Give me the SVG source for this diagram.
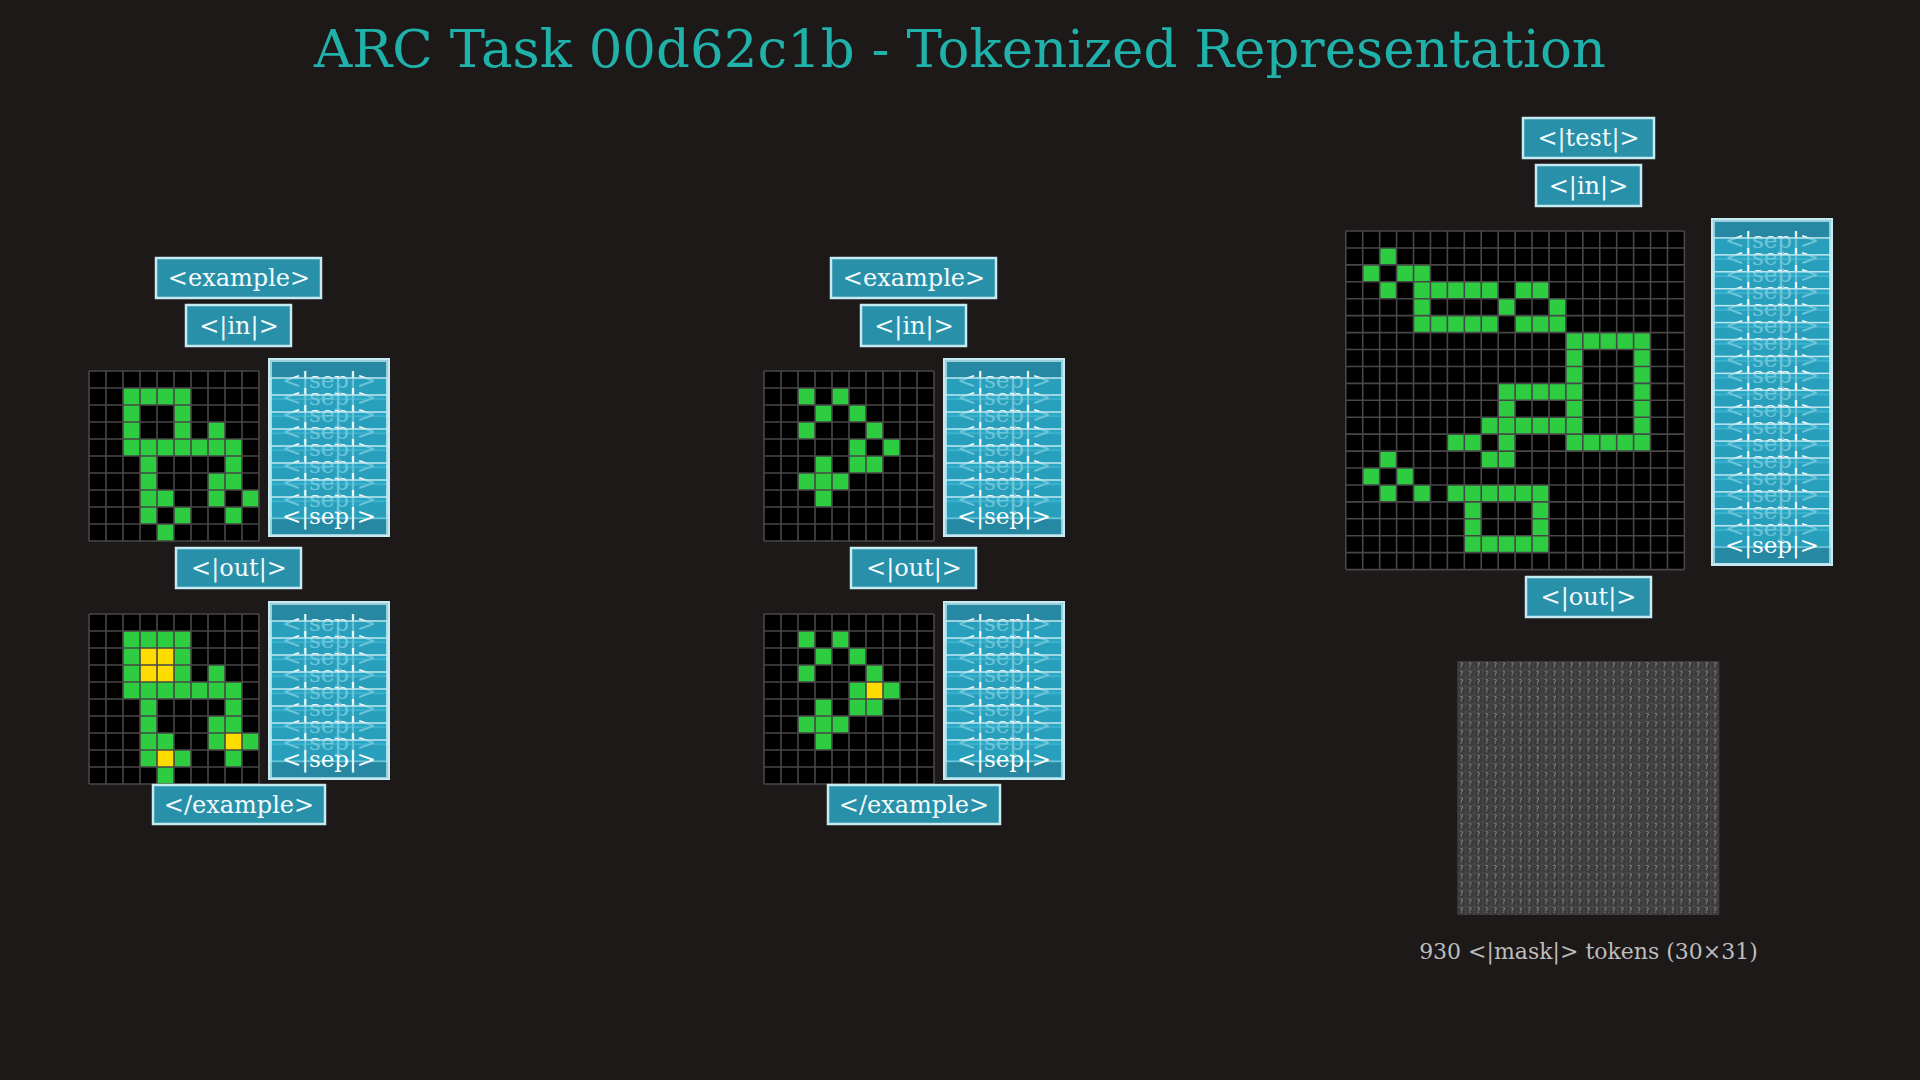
<svg xmlns="http://www.w3.org/2000/svg" xmlns:xlink="http://www.w3.org/1999/xlink" width="1920" height="1080" viewBox="0 0 1920 1080">
<defs>
<style>
.title{font-family:'DejaVu Serif',serif;font-size:53px;fill:#20b2aa;text-anchor:middle}
.lbl{fill:#2890a9;stroke:#c6eaf2;stroke-width:2.5}
.lt{font-family:'DejaVu Serif',serif;font-size:24px;fill:#f4fbfd;text-anchor:middle}
.k{fill:#000}
.g{fill:#2ecc40}
.y{fill:#ffdc00}
.gl{fill:none;stroke:#474747;stroke-width:1.6;vector-effect:non-scaling-stroke}
.stk{fill:#2688a2;stroke:#c6eaf2;stroke-width:2}
.sb{fill:url(#sepgrad);fill-opacity:0.68;stroke:#c0e7f0;stroke-width:1.5}
.sb0{fill:#2688a2;stroke:#c0e7f0;stroke-width:1.5}
.st{font-family:'DejaVu Serif',serif;font-size:23px;fill:#ffffff;text-anchor:middle}
.mt{font-family:'DejaVu Serif',serif;font-size:22px;fill:#bdbdbd;text-anchor:middle}
</style>
<linearGradient id="sepgrad" x1="0" y1="0" x2="0" y2="1">
<stop offset="0" stop-color="#29aac8"/>
<stop offset="0.55" stop-color="#29aac8"/>
<stop offset="0.57" stop-color="#62c6dc"/>
<stop offset="0.6" stop-color="#2688a2"/>
<stop offset="1" stop-color="#2688a2"/>
</linearGradient>
<path id="lines10" class="gl" d="M0 0H10M0 1H10M0 2H10M0 3H10M0 4H10M0 5H10M0 6H10M0 7H10M0 8H10M0 9H10M0 10H10M0 0V10M1 0V10M2 0V10M3 0V10M4 0V10M5 0V10M6 0V10M7 0V10M8 0V10M9 0V10M10 0V10"/>
<path id="lines20" class="gl" d="M0 0H20M0 1H20M0 2H20M0 3H20M0 4H20M0 5H20M0 6H20M0 7H20M0 8H20M0 9H20M0 10H20M0 11H20M0 12H20M0 13H20M0 14H20M0 15H20M0 16H20M0 17H20M0 18H20M0 19H20M0 20H20M0 0V20M1 0V20M2 0V20M3 0V20M4 0V20M5 0V20M6 0V20M7 0V20M8 0V20M9 0V20M10 0V20M11 0V20M12 0V20M13 0V20M14 0V20M15 0V20M16 0V20M17 0V20M18 0V20M19 0V20M20 0V20"/>
<pattern id="maskcell" patternUnits="userSpaceOnUse" x="1457.3" y="661.3" width="8.45" height="8.45">
<rect width="8.45" height="8.45" fill="#3a3a3a" stroke="#575757" stroke-width="0.6"/>
<text x="4.22" y="7" font-family="'DejaVu Sans',sans-serif" font-size="7.5" fill="#a0a0a0" text-anchor="middle">?</text>
</pattern>
</defs>
<rect width="1920" height="1080" fill="#1c1918"/>
<text id="title" class="title" x="960" y="67">ARC Task 00d62c1b - Tokenized Representation</text>

<g id="connectors"/>

<!-- Example 1 -->
<g id="ex1-open"><rect class="lbl" x="156" y="258" width="165" height="40"/><text class="lt" x="239" y="286">&lt;example&gt;</text></g>
<g id="ex1-in"><rect class="lbl" x="186" y="305" width="105" height="41"/><text class="lt" x="239" y="333.5">&lt;|in|&gt;</text></g>
<g id="ex1-in-grid" transform="translate(89,371) scale(17)">
<rect class="k" width="10" height="10"/>
<g class="g">
<rect x="2" y="1" width="4" height="1"/>
<rect x="2" y="2" width="1" height="1"/><rect x="5" y="2" width="1" height="1"/>
<rect x="2" y="3" width="1" height="1"/><rect x="5" y="3" width="1" height="1"/><rect x="7" y="3" width="1" height="1"/>
<rect x="2" y="4" width="7" height="1"/>
<rect x="3" y="5" width="1" height="1"/><rect x="8" y="5" width="1" height="1"/>
<rect x="3" y="6" width="1" height="1"/><rect x="7" y="6" width="2" height="1"/>
<rect x="3" y="7" width="2" height="1"/><rect x="7" y="7" width="1" height="1"/><rect x="9" y="7" width="1" height="1"/>
<rect x="3" y="8" width="1" height="1"/><rect x="5" y="8" width="1" height="1"/><rect x="8" y="8" width="1" height="1"/>
<rect x="4" y="9" width="1" height="1"/>
</g>
<use xlink:href="#lines10"/>
</g>
<g id="ex1-in-sep" transform="translate(269,359)">
<rect class="stk" width="120" height="177"/>
<rect class="sb0" x="2" y="2" width="116" height="38"/><text class="st" x="60" y="29">&lt;|sep|&gt;</text>
<rect class="sb" x="2" y="19" width="116" height="38"/><text class="st" x="60" y="46">&lt;|sep|&gt;</text>
<rect class="sb" x="2" y="36" width="116" height="38"/><text class="st" x="60" y="63">&lt;|sep|&gt;</text>
<rect class="sb" x="2" y="53" width="116" height="38"/><text class="st" x="60" y="80">&lt;|sep|&gt;</text>
<rect class="sb" x="2" y="70" width="116" height="38"/><text class="st" x="60" y="97">&lt;|sep|&gt;</text>
<rect class="sb" x="2" y="87" width="116" height="38"/><text class="st" x="60" y="114">&lt;|sep|&gt;</text>
<rect class="sb" x="2" y="104" width="116" height="38"/><text class="st" x="60" y="131">&lt;|sep|&gt;</text>
<rect class="sb" x="2" y="121" width="116" height="38"/><text class="st" x="60" y="148">&lt;|sep|&gt;</text>
<rect class="sb" x="2" y="138" width="116" height="38"/><text class="st" x="60" y="165">&lt;|sep|&gt;</text>
</g>
<g id="ex1-out"><rect class="lbl" x="176" y="548" width="125" height="40"/><text class="lt" x="239" y="576">&lt;|out|&gt;</text></g>
<g id="ex1-out-grid" transform="translate(89,614) scale(17)">
<rect class="k" width="10" height="10"/>
<g class="g">
<rect x="2" y="1" width="4" height="1"/>
<rect x="2" y="2" width="1" height="1"/><rect x="5" y="2" width="1" height="1"/>
<rect x="2" y="3" width="1" height="1"/><rect x="5" y="3" width="1" height="1"/><rect x="7" y="3" width="1" height="1"/>
<rect x="2" y="4" width="7" height="1"/>
<rect x="3" y="5" width="1" height="1"/><rect x="8" y="5" width="1" height="1"/>
<rect x="3" y="6" width="1" height="1"/><rect x="7" y="6" width="2" height="1"/>
<rect x="3" y="7" width="2" height="1"/><rect x="7" y="7" width="1" height="1"/><rect x="9" y="7" width="1" height="1"/>
<rect x="3" y="8" width="1" height="1"/><rect x="5" y="8" width="1" height="1"/><rect x="8" y="8" width="1" height="1"/>
<rect x="4" y="9" width="1" height="1"/>
</g>
<g class="y">
<rect x="3" y="2" width="2" height="2"/>
<rect x="8" y="7" width="1" height="1"/>
<rect x="4" y="8" width="1" height="1"/>
</g>
<use xlink:href="#lines10"/>
</g>
<g id="ex1-out-sep" transform="translate(269,602)">
<rect class="stk" width="120" height="177"/>
<rect class="sb0" x="2" y="2" width="116" height="38"/><text class="st" x="60" y="29">&lt;|sep|&gt;</text>
<rect class="sb" x="2" y="19" width="116" height="38"/><text class="st" x="60" y="46">&lt;|sep|&gt;</text>
<rect class="sb" x="2" y="36" width="116" height="38"/><text class="st" x="60" y="63">&lt;|sep|&gt;</text>
<rect class="sb" x="2" y="53" width="116" height="38"/><text class="st" x="60" y="80">&lt;|sep|&gt;</text>
<rect class="sb" x="2" y="70" width="116" height="38"/><text class="st" x="60" y="97">&lt;|sep|&gt;</text>
<rect class="sb" x="2" y="87" width="116" height="38"/><text class="st" x="60" y="114">&lt;|sep|&gt;</text>
<rect class="sb" x="2" y="104" width="116" height="38"/><text class="st" x="60" y="131">&lt;|sep|&gt;</text>
<rect class="sb" x="2" y="121" width="116" height="38"/><text class="st" x="60" y="148">&lt;|sep|&gt;</text>
<rect class="sb" x="2" y="138" width="116" height="38"/><text class="st" x="60" y="165">&lt;|sep|&gt;</text>
</g>
<g id="ex1-close"><rect class="lbl" x="153" y="785" width="172" height="39"/><text class="lt" x="239" y="812.5">&lt;/example&gt;</text></g>

<!-- Example 2 -->
<g id="ex2-open"><rect class="lbl" x="831" y="258" width="165" height="40"/><text class="lt" x="914" y="286">&lt;example&gt;</text></g>
<g id="ex2-in"><rect class="lbl" x="861" y="305" width="105" height="41"/><text class="lt" x="914" y="333.5">&lt;|in|&gt;</text></g>
<g id="ex2-in-grid" transform="translate(764,371) scale(17)">
<rect class="k" width="10" height="10"/>
<g class="g">
<rect x="2" y="1" width="1" height="1"/><rect x="4" y="1" width="1" height="1"/>
<rect x="3" y="2" width="1" height="1"/><rect x="5" y="2" width="1" height="1"/>
<rect x="2" y="3" width="1" height="1"/><rect x="6" y="3" width="1" height="1"/>
<rect x="5" y="4" width="1" height="1"/><rect x="7" y="4" width="1" height="1"/>
<rect x="3" y="5" width="1" height="1"/><rect x="5" y="5" width="2" height="1"/>
<rect x="2" y="6" width="3" height="1"/>
<rect x="3" y="7" width="1" height="1"/>
</g>
<use xlink:href="#lines10"/>
</g>
<g id="ex2-in-sep" transform="translate(944,359)">
<rect class="stk" width="120" height="177"/>
<rect class="sb0" x="2" y="2" width="116" height="38"/><text class="st" x="60" y="29">&lt;|sep|&gt;</text>
<rect class="sb" x="2" y="19" width="116" height="38"/><text class="st" x="60" y="46">&lt;|sep|&gt;</text>
<rect class="sb" x="2" y="36" width="116" height="38"/><text class="st" x="60" y="63">&lt;|sep|&gt;</text>
<rect class="sb" x="2" y="53" width="116" height="38"/><text class="st" x="60" y="80">&lt;|sep|&gt;</text>
<rect class="sb" x="2" y="70" width="116" height="38"/><text class="st" x="60" y="97">&lt;|sep|&gt;</text>
<rect class="sb" x="2" y="87" width="116" height="38"/><text class="st" x="60" y="114">&lt;|sep|&gt;</text>
<rect class="sb" x="2" y="104" width="116" height="38"/><text class="st" x="60" y="131">&lt;|sep|&gt;</text>
<rect class="sb" x="2" y="121" width="116" height="38"/><text class="st" x="60" y="148">&lt;|sep|&gt;</text>
<rect class="sb" x="2" y="138" width="116" height="38"/><text class="st" x="60" y="165">&lt;|sep|&gt;</text>
</g>
<g id="ex2-out"><rect class="lbl" x="851" y="548" width="125" height="40"/><text class="lt" x="914" y="576">&lt;|out|&gt;</text></g>
<g id="ex2-out-grid" transform="translate(764,614) scale(17)">
<rect class="k" width="10" height="10"/>
<g class="g">
<rect x="2" y="1" width="1" height="1"/><rect x="4" y="1" width="1" height="1"/>
<rect x="3" y="2" width="1" height="1"/><rect x="5" y="2" width="1" height="1"/>
<rect x="2" y="3" width="1" height="1"/><rect x="6" y="3" width="1" height="1"/>
<rect x="5" y="4" width="1" height="1"/><rect x="7" y="4" width="1" height="1"/>
<rect x="3" y="5" width="1" height="1"/><rect x="5" y="5" width="2" height="1"/>
<rect x="2" y="6" width="3" height="1"/>
<rect x="3" y="7" width="1" height="1"/>
</g>
<rect class="y" x="6" y="4" width="1" height="1"/>
<use xlink:href="#lines10"/>
</g>
<g id="ex2-out-sep" transform="translate(944,602)">
<rect class="stk" width="120" height="177"/>
<rect class="sb0" x="2" y="2" width="116" height="38"/><text class="st" x="60" y="29">&lt;|sep|&gt;</text>
<rect class="sb" x="2" y="19" width="116" height="38"/><text class="st" x="60" y="46">&lt;|sep|&gt;</text>
<rect class="sb" x="2" y="36" width="116" height="38"/><text class="st" x="60" y="63">&lt;|sep|&gt;</text>
<rect class="sb" x="2" y="53" width="116" height="38"/><text class="st" x="60" y="80">&lt;|sep|&gt;</text>
<rect class="sb" x="2" y="70" width="116" height="38"/><text class="st" x="60" y="97">&lt;|sep|&gt;</text>
<rect class="sb" x="2" y="87" width="116" height="38"/><text class="st" x="60" y="114">&lt;|sep|&gt;</text>
<rect class="sb" x="2" y="104" width="116" height="38"/><text class="st" x="60" y="131">&lt;|sep|&gt;</text>
<rect class="sb" x="2" y="121" width="116" height="38"/><text class="st" x="60" y="148">&lt;|sep|&gt;</text>
<rect class="sb" x="2" y="138" width="116" height="38"/><text class="st" x="60" y="165">&lt;|sep|&gt;</text>
</g>
<g id="ex2-close"><rect class="lbl" x="828" y="785" width="172" height="39"/><text class="lt" x="914" y="812.5">&lt;/example&gt;</text></g>

<!-- Test -->
<g id="test-open"><rect class="lbl" x="1523" y="118" width="131" height="40"/><text class="lt" x="1588.5" y="146">&lt;|test|&gt;</text></g>
<g id="test-in"><rect class="lbl" x="1536" y="165" width="105" height="41"/><text class="lt" x="1588.5" y="193.5">&lt;|in|&gt;</text></g>
<g id="test-in-grid" transform="translate(1345.8,231) scale(16.93)">
<rect class="k" width="20" height="20"/>
<g class="g">
<rect x="2" y="1" width="1" height="1"/>
<rect x="1" y="2" width="1" height="1"/><rect x="3" y="2" width="2" height="1"/>
<rect x="2" y="3" width="1" height="1"/><rect x="4" y="3" width="5" height="1"/><rect x="10" y="3" width="2" height="1"/>
<rect x="4" y="4" width="1" height="1"/><rect x="9" y="4" width="1" height="1"/><rect x="12" y="4" width="1" height="1"/>
<rect x="4" y="5" width="5" height="1"/><rect x="10" y="5" width="3" height="1"/>
<rect x="13" y="6" width="5" height="1"/>
<rect x="13" y="7" width="1" height="1"/><rect x="17" y="7" width="1" height="1"/>
<rect x="13" y="8" width="1" height="1"/><rect x="17" y="8" width="1" height="1"/>
<rect x="9" y="9" width="5" height="1"/><rect x="17" y="9" width="1" height="1"/>
<rect x="9" y="10" width="1" height="1"/><rect x="13" y="10" width="1" height="1"/><rect x="17" y="10" width="1" height="1"/>
<rect x="8" y="11" width="6" height="1"/><rect x="17" y="11" width="1" height="1"/>
<rect x="6" y="12" width="2" height="1"/><rect x="9" y="12" width="1" height="1"/><rect x="13" y="12" width="5" height="1"/>
<rect x="2" y="13" width="1" height="1"/><rect x="8" y="13" width="2" height="1"/>
<rect x="1" y="14" width="1" height="1"/><rect x="3" y="14" width="1" height="1"/>
<rect x="2" y="15" width="1" height="1"/><rect x="4" y="15" width="1" height="1"/><rect x="6" y="15" width="6" height="1"/>
<rect x="7" y="16" width="1" height="1"/><rect x="11" y="16" width="1" height="1"/>
<rect x="7" y="17" width="1" height="1"/><rect x="11" y="17" width="1" height="1"/>
<rect x="7" y="18" width="5" height="1"/>
</g>
<use xlink:href="#lines20"/>
</g>
<g id="test-in-sep" transform="translate(1712,219)">
<rect class="stk" width="120" height="346"/>
<rect class="sb0" x="2" y="2" width="116" height="38"/><text class="st" x="60" y="29">&lt;|sep|&gt;</text>
<rect class="sb" x="2" y="18.93" width="116" height="38"/><text class="st" x="60" y="45.93">&lt;|sep|&gt;</text>
<rect class="sb" x="2" y="35.86" width="116" height="38"/><text class="st" x="60" y="62.86">&lt;|sep|&gt;</text>
<rect class="sb" x="2" y="52.79" width="116" height="38"/><text class="st" x="60" y="79.79">&lt;|sep|&gt;</text>
<rect class="sb" x="2" y="69.72" width="116" height="38"/><text class="st" x="60" y="96.72">&lt;|sep|&gt;</text>
<rect class="sb" x="2" y="86.65" width="116" height="38"/><text class="st" x="60" y="113.65">&lt;|sep|&gt;</text>
<rect class="sb" x="2" y="103.58" width="116" height="38"/><text class="st" x="60" y="130.58">&lt;|sep|&gt;</text>
<rect class="sb" x="2" y="120.51" width="116" height="38"/><text class="st" x="60" y="147.51">&lt;|sep|&gt;</text>
<rect class="sb" x="2" y="137.44" width="116" height="38"/><text class="st" x="60" y="164.44">&lt;|sep|&gt;</text>
<rect class="sb" x="2" y="154.37" width="116" height="38"/><text class="st" x="60" y="181.37">&lt;|sep|&gt;</text>
<rect class="sb" x="2" y="171.3" width="116" height="38"/><text class="st" x="60" y="198.3">&lt;|sep|&gt;</text>
<rect class="sb" x="2" y="188.23" width="116" height="38"/><text class="st" x="60" y="215.23">&lt;|sep|&gt;</text>
<rect class="sb" x="2" y="205.16" width="116" height="38"/><text class="st" x="60" y="232.16">&lt;|sep|&gt;</text>
<rect class="sb" x="2" y="222.09" width="116" height="38"/><text class="st" x="60" y="249.09">&lt;|sep|&gt;</text>
<rect class="sb" x="2" y="239.02" width="116" height="38"/><text class="st" x="60" y="266.02">&lt;|sep|&gt;</text>
<rect class="sb" x="2" y="255.95" width="116" height="38"/><text class="st" x="60" y="282.95">&lt;|sep|&gt;</text>
<rect class="sb" x="2" y="272.88" width="116" height="38"/><text class="st" x="60" y="299.88">&lt;|sep|&gt;</text>
<rect class="sb" x="2" y="289.81" width="116" height="38"/><text class="st" x="60" y="316.81">&lt;|sep|&gt;</text>
<rect class="sb" x="2" y="306.74" width="116" height="38"/><text class="st" x="60" y="333.74">&lt;|sep|&gt;</text>
</g>
<g id="test-out"><rect class="lbl" x="1526" y="577" width="125" height="40"/><text class="lt" x="1588.5" y="605">&lt;|out|&gt;</text></g>
<g id="test-mask">
<rect x="1457.3" y="661.3" width="261.95" height="253.5" fill="url(#maskcell)"/>
<text class="mt" x="1588.5" y="959">930 &lt;|mask|&gt; tokens (30×31)</text>
</g>
</svg>
